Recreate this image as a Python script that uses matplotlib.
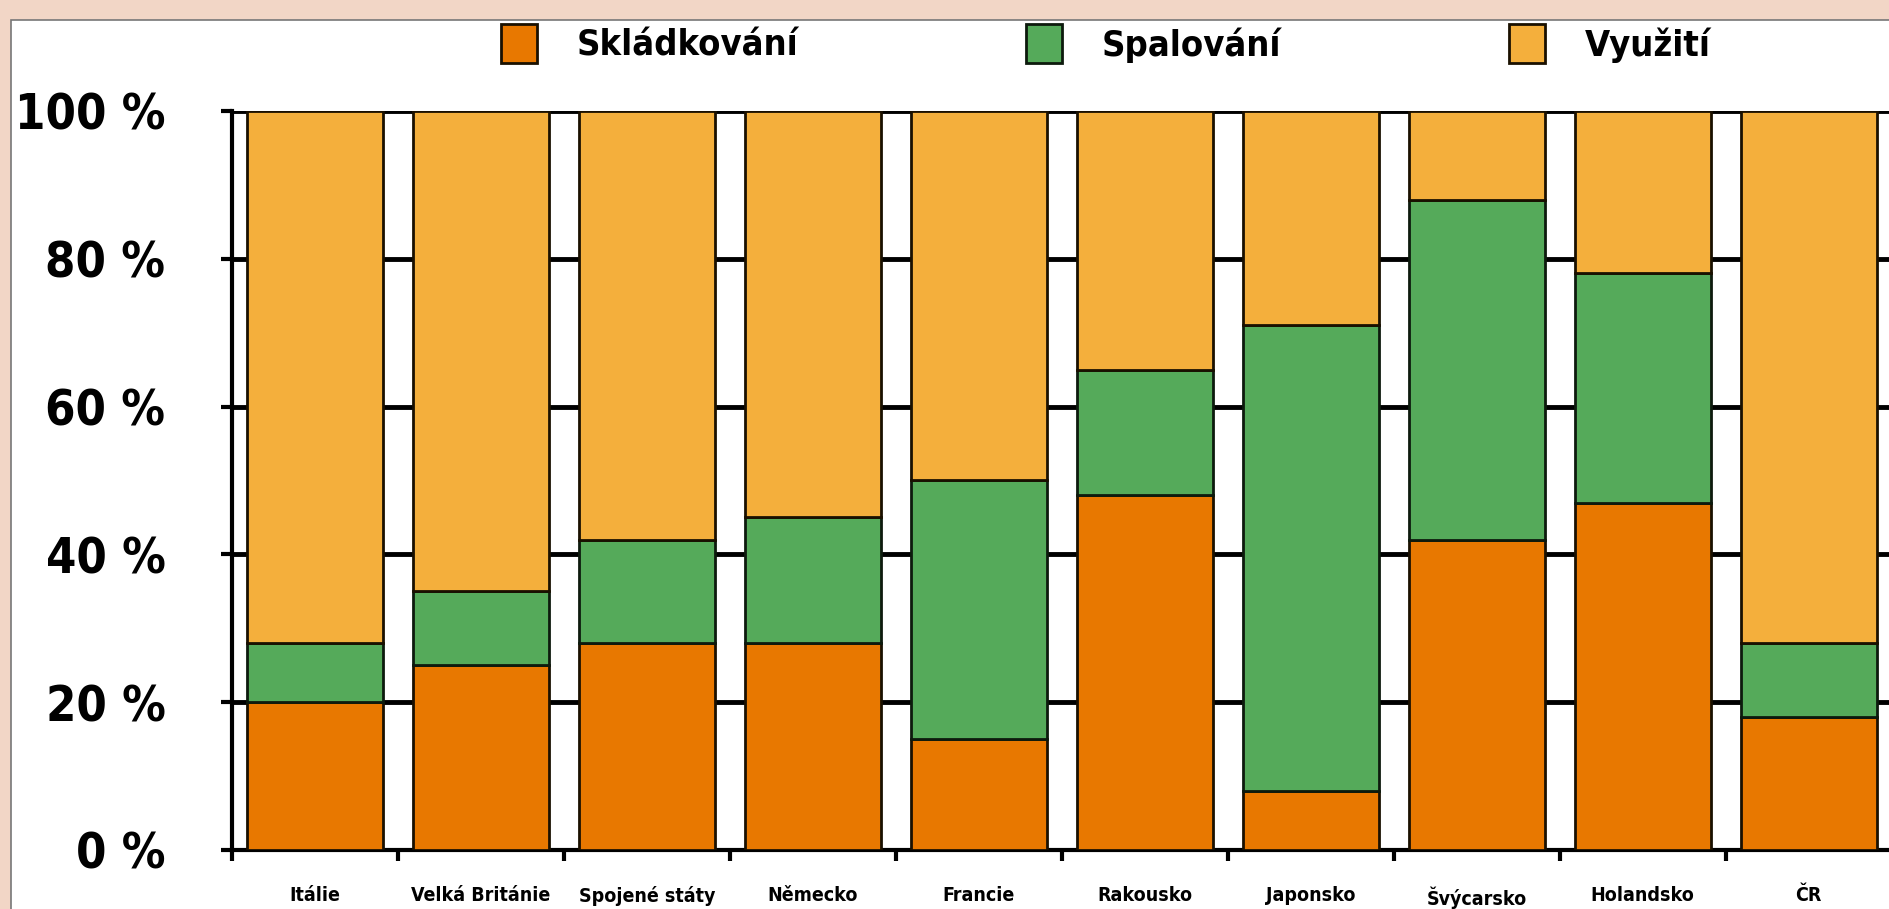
import matplotlib
matplotlib.use("Agg")
import matplotlib.pyplot as plt
import numpy as np
from matplotlib.patches import Rectangle

plt.rcParams['font.family'] = ['DejaVu Sans']
plt.rcParams['font.stretch'] = 'condensed'

# data (% share)
countries = ['Itálie', 'Velká Británie', 'Spojené státy', 'Německo', 'Francie',
             'Rakousko', 'Japonsko', 'Švýcarsko', 'Holandsko', 'ČR']
skladkovani = [20, 25, 28, 28, 15, 48, 8, 42, 47, 18]
spalovani = [8, 10, 14, 17, 35, 17, 63, 46, 31, 10]
vyuziti = [72, 65, 58, 55, 50, 35, 29, 12, 22, 72]
yticks = [0, 20, 40, 60, 80, 100]

c_skl = '#E87800'
c_spal = '#55AA5A'
c_vyu = '#F4AF3C'

fig = plt.figure(figsize=(18.9, 9.09), dpi=100, facecolor='#F2D6C6')
# white slide area
fig.add_artist(Rectangle((0.006, -0.01), 1.0, 0.988, transform=fig.transFigure,
                         facecolor='white', edgecolor='#777777', lw=1.2, zorder=-10))
ax = fig.add_axes([0.1228, 0.065, 0.878, 0.813])
ax.set_facecolor('none')

x = np.arange(len(countries))
w = 0.82
b1 = ax.bar(x, skladkovani, w, color=c_skl, edgecolor='#1a1000', lw=2, zorder=3, label='Skládkování')
b2 = ax.bar(x, spalovani, w, bottom=skladkovani, color=c_spal, edgecolor='#0d1a0d', lw=2, zorder=3, label='Spalování')
bot = [a + b for a, b in zip(skladkovani, spalovani)]
b3 = ax.bar(x, vyuziti, w, bottom=bot, color=c_vyu, edgecolor='#1a1000', lw=2, zorder=3, label='Využití')

ax.set_xlim(-0.5, len(countries) - 0.5)
ax.set_ylim(0, 100)

# gridlines behind bars
for v in yticks:
    ax.axhline(v, color='black', lw=3.5, zorder=1)

ax.set_yticks(yticks)
ax.set_yticklabels([f'{v} %' for v in yticks], fontsize=35, fontweight='bold')
ax.tick_params(axis='y', direction='out', length=8, width=3, pad=40)

ax.set_xticks(x)
ax.set_xticklabels(countries, fontsize=14, fontweight='bold')
ax.tick_params(axis='x', which='major', length=0, pad=26)
ax.set_xticks(np.arange(len(countries) + 1) - 0.5, minor=True)
ax.tick_params(axis='x', which='minor', direction='out', length=8, width=3)

for s in ['top', 'right']:
    ax.spines[s].set_visible(False)
ax.spines['left'].set_linewidth(3)
ax.spines['bottom'].set_linewidth(3)

leg = fig.legend(handles=[b1, b2, b3], loc='center', bbox_to_anchor=(0.585, 0.952),
                 ncol=3, frameon=False, prop={'size': 26, 'weight': 'bold', 'stretch': 'condensed'},
                 handlelength=1.0, handleheight=1.3, columnspacing=6.3, handletextpad=1.1)

fig.savefig('out.png', dpi=100, facecolor=fig.get_facecolor())
